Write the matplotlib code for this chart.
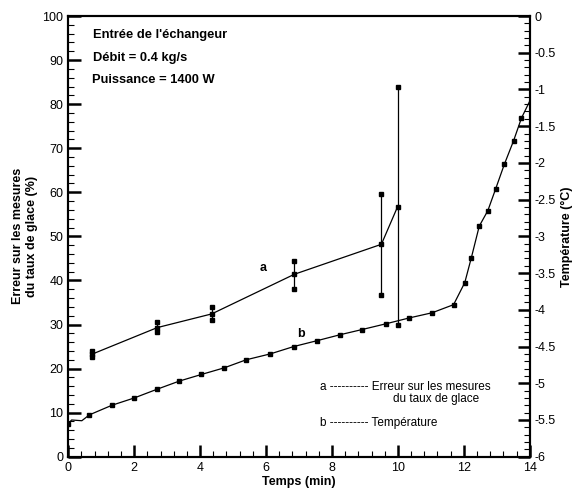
import numpy as np
import matplotlib
matplotlib.use('Agg')
from matplotlib import pyplot as plt
from matplotlib.ticker import MultipleLocator

plt.rcParams['font.family'] = ['Liberation Sans', 'DejaVu Sans']

# --- data ---
# curve a : erreur sur le taux de glace (%), with min / max of each measure
t_a = [0.73, 2.70, 4.35, 6.86, 9.50, 9.99]
err_a = [23.3, 29.3, 32.4, 41.4, 48.2, 56.7]
err_lo = [22.6, 28.2, 31.1, 38.1, 36.6, 29.9]
err_hi = [23.9, 30.5, 33.9, 44.3, 59.5, 83.9]

# curve b : temperature (°C), measured points
t_b = [0.0, 0.64, 1.32, 2.0, 2.7, 3.37, 4.04, 4.73, 5.4, 6.13, 6.84,
       7.55, 8.24, 8.9, 9.64, 10.35, 11.04, 11.69, 12.03, 12.23, 12.47,
       12.73, 12.97, 13.23, 13.51, 13.75]
temp_b = [-5.55, -5.43, -5.30, -5.20, -5.08, -4.97, -4.88, -4.79, -4.68,
          -4.60, -4.50, -4.42, -4.34, -4.27, -4.19, -4.11, -4.04, -3.93,
          -3.63, -3.29, -2.86, -2.65, -2.35, -2.02, -1.70, -1.39]
# extra points of the drawn curve (no marker)
t_curve = [0.10, 0.41, 14.0]
temp_curve = [-5.50, -5.51, -1.16]

right_ticks = [0, -0.5, -1, -1.5, -2, -2.5, -3, -3.5, -4, -4.5, -5, -5.5, -6]
right_labels = ['0', '-0.5', '-1', '-1.5', '-2', '-2.5', '-3', '-3.5', '-4',
                '-4.5', '-5', '-5.5', '-6']

fig = plt.figure(figsize=(5.75, 4.88), dpi=100)
ax = fig.add_axes([0.1188, 0.0641, 0.8024, 0.9031])
ax2 = ax.twinx()

lw = 0.9
ms = 3

# curve a with its vertical bars
ax.plot(t_a, err_a, color='black', lw=lw, marker='s', ms=ms, zorder=3)
for t, lo, hi in zip(t_a, err_lo, err_hi):
    ax.plot([t, t], [lo, hi], color='black', lw=lw, marker='s', ms=ms)

# curve b
pts = sorted(zip(t_b + t_curve, temp_b + temp_curve))
ax2.plot([p[0] for p in pts], [p[1] for p in pts], color='black', lw=lw)
ax2.plot(t_b, temp_b, ls='none', color='black', marker='s', ms=ms)

ax.set_xlim(0, 14)
ax.set_ylim(0, 100)
ax2.set_ylim(-6, 0)

for spine in list(ax.spines.values()) + list(ax2.spines.values()):
    spine.set_linewidth(1.5)

ax.xaxis.set_major_locator(MultipleLocator(2))
ax.xaxis.set_minor_locator(MultipleLocator(0.4))
ax.yaxis.set_major_locator(MultipleLocator(10))
ax.yaxis.set_minor_locator(MultipleLocator(2))
ax.tick_params(which='both', direction='in', top=False, right=False,
               labelsize=9, width=1.2)
ax.tick_params(which='major', length=9, width=1.8)
ax.tick_params(which='minor', length=4.5, width=0.8)

ax2.set_yticks(right_ticks)
ax2.set_yticklabels(right_labels)
ax2.yaxis.set_minor_locator(MultipleLocator(0.1))
ax2.tick_params(which='both', direction='in', labelsize=9)
ax2.tick_params(which='major', length=9, width=1.8)
ax2.tick_params(which='minor', length=4.5, width=0.8)

ax.set_xlabel('Temps (min)', fontsize=9, fontweight='bold', labelpad=2)
ax.set_ylabel('Erreur sur les mesures\ndu taux de glace (%)', fontsize=9,
              fontweight='bold', labelpad=3)
ax2.set_ylabel('Température (°C)', fontsize=9, fontweight='bold',
               labelpad=4)

# notes at top left
ax.text(0.75, 95.6, "Entrée de l'échangeur", fontsize=9.3, fontweight='bold',
        va='center')
ax.text(0.75, 90.5, 'Débit = 0.4 kg/s', fontsize=9.3, fontweight='bold',
        va='center')
ax.text(0.71, 85.4, 'Puissance = 1400 W', fontsize=9.3, fontweight='bold',
        va='center')

# curve labels
ax.text(5.9, 42.8, 'a', fontsize=9, fontweight='bold', ha='center', va='center')
ax.text(7.06, 27.8, 'b', fontsize=9, fontweight='bold', ha='center', va='center')

# legend drawn as text
ax.text(7.65, 15.9, 'a ---------- Erreur sur les mesures', fontsize=8.5,
        va='center')
ax.text(9.86, 13.2, 'du taux de glace', fontsize=8.5, va='center')
ax.text(7.65, 7.6, 'b ---------- Température', fontsize=8.5, va='center')

fig.savefig('out.png', dpi=100)
